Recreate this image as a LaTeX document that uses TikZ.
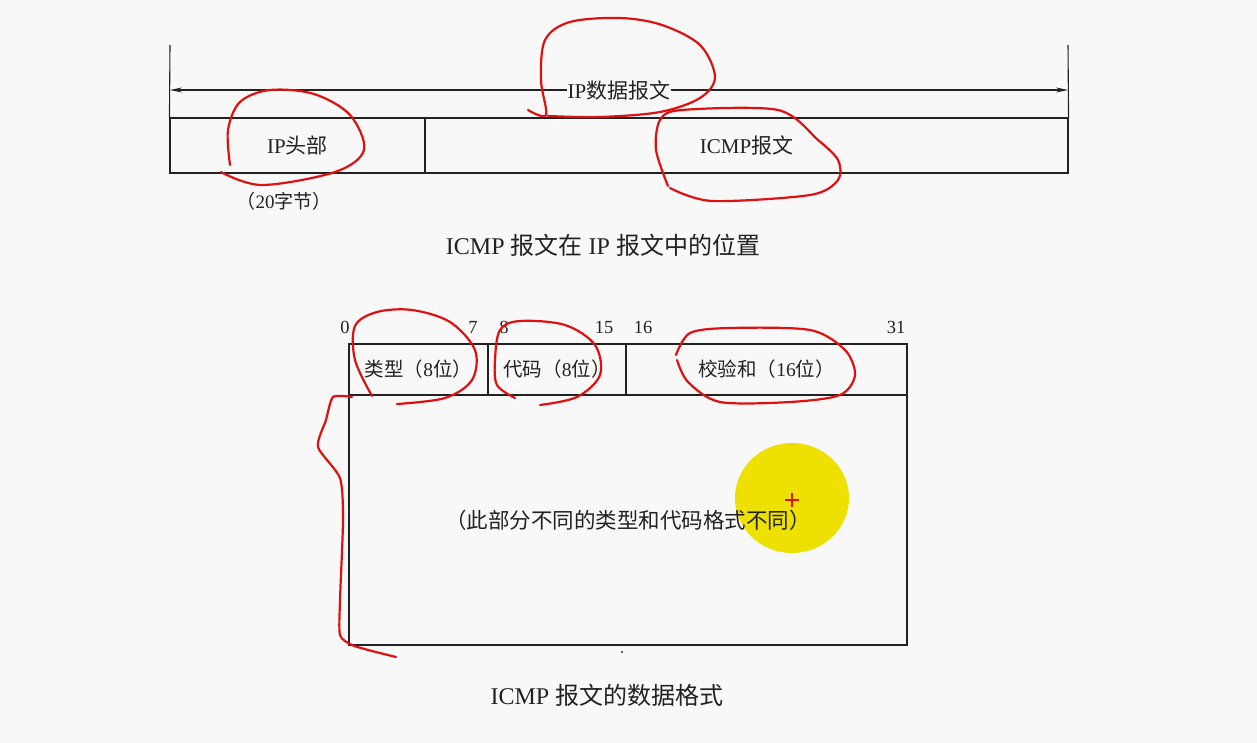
\documentclass[tikz,border=0pt]{standalone}
\usepackage{fontspec}
\setmainfont{Liberation Serif}
\newfontfamily\cjk{Noto Sans CJK SC}
\usetikzlibrary{arrows.meta}
\definecolor{bg}{HTML}{F8F8F8}
\definecolor{ink}{HTML}{222222}
\definecolor{redpen}{HTML}{E01010}
\definecolor{hilite}{HTML}{EEE000}
\tikzset{
  cell/.style={draw=ink, line width=1.1pt, inner sep=0pt, text=ink, font=\fontsize{19.5}{22}\selectfont},
  lbl/.style={inner sep=1pt, text=ink, font=\fontsize{21}{24}\selectfont},
  caption/.style={inner sep=0pt, text=ink, font=\fontsize{24}{28}\selectfont},
  bitno/.style={inner sep=0pt, text=ink, font=\fontsize{18.5}{20}\selectfont},
  guide/.style={draw=ink, line width=1.1pt},
  pen/.style={draw=redpen, line width=2.2pt, line cap=round, line join=round},
}
\begin{document}
\begin{tikzpicture}[x=1pt, y=-1pt]
\fill[bg] (0,0) rectangle (1257,743);
\useasboundingbox (0,0) rectangle (1257,743);

% yellow cursor highlight
\fill[hilite] (792,498) ellipse [x radius=57, y radius=55];

% ---------- top diagram ----------
\node[cell, font=\fontsize{21}{24}\selectfont, minimum width=255pt, minimum height=55pt] (iphdr) at (297.5,145.5) {IP{\cjk 头部}};
\node[cell, font=\fontsize{21}{24}\selectfont, minimum width=643pt, minimum height=55pt] (icmp) at (746.5,145.5) {ICMP{\cjk 报文}};
\coordinate (lt) at (170,45);
\coordinate (rt) at (1068,45);
\draw[guide] (lt) -- (iphdr.north west);
\draw[guide] (rt) -- (icmp.north east);
\coordinate (al) at (170,90);
\coordinate (ar) at (1068,90);
\draw[guide, {Stealth[length=12pt,width=5pt]}-{Stealth[length=12pt,width=5pt]}] (al) -- (ar);
\node[lbl, fill=bg] (ipdg) at (619,90) {IP{\cjk 数据报文}};
\node[lbl, font=\fontsize{19}{22}\selectfont] (len) at (284,201) {{\cjk （}20{\cjk 字节）}};
\node[caption] (cap1) at (603,245) {ICMP {\cjk 报文在} IP {\cjk 报文中的位置}};

% ---------- bottom diagram ----------
\node[bitno] (b0) at (345,327) {0};
\node[bitno] (b7) at (473,327) {7};
\node[bitno] (b8) at (504,327) {8};
\node[bitno] (b15) at (604,327) {15};
\node[bitno] (b16) at (643,327) {16};
\node[bitno] (b31) at (896,327) {31};

\node[cell, minimum width=139pt, minimum height=51pt] (type) at (418.5,369.5) {{\cjk 类型（}8{\cjk 位）}};
\node[cell, minimum width=138pt, minimum height=51pt] (code) at (557,369.5) {{\cjk 代码（}8{\cjk 位）}};
\node[cell, minimum width=281pt, minimum height=51pt] (csum) at (766.5,369.5) {{\cjk 校验和（}16{\cjk 位）}};
\node[cell, minimum width=558pt, minimum height=250pt, font=\fontsize{21.5}{25}\selectfont] (body) at (628,520) {\cjk （此部分不同的类型和代码格式不同）};
\fill[ink] (622,652) circle [radius=1.2];
\node[caption] (cap2) at (607,695) {ICMP {\cjk 报文的数据格式}};

% ---------- red pen annotations ----------
\draw[pen] plot[smooth, tension=0.55] coordinates {(528,110) (546,115) (541,80) (545,40) (570,22) (620,18) (662,25) (700,45) (715,77) (700,98) (660,112) (600,117) (548,116)};
\draw[pen] plot[smooth, tension=0.55] coordinates {(230,165) (228,130) (240,102) (270,90) (314,94) (350,115) (364,150) (335,172) (262,185) (221,172)};
\draw[pen] plot[smooth, tension=0.5] coordinates {(668,186) (656,150) (660,120) (682,110) (778,110) (818,140) (838,160) (838,180) (810,195) (712,201) (670,188)};
\draw[pen] plot[smooth, tension=0.55] coordinates {(372,396) (355,360) (355,326) (377,312) (412,310) (450,322) (475,350) (472,380) (445,398) (397,404)};
\draw[pen] plot[smooth, tension=0.55] coordinates {(540,405) (577,397) (600,375) (595,345) (565,325) (520,321) (500,330) (495,360) (497,385) (515,398)};
\draw[pen] plot[smooth, tension=0.5] coordinates {(676,355) (690,333) (730,328) (810,330) (845,350) (855,375) (840,395) (790,402) (720,402) (688,382) (677,360)};
\draw[pen] plot[smooth, tension=0.4] coordinates {(352,397) (333,397) (326,420) (318,447) (340,478) (343,520) (340,600) (340,635) (352,645) (372,651) (396,657)};
% cursor plus
\draw[redpen, line width=1.6pt] (785,500) -- (799,500) (792,493) -- (792,507);
\end{tikzpicture}
\end{document}
